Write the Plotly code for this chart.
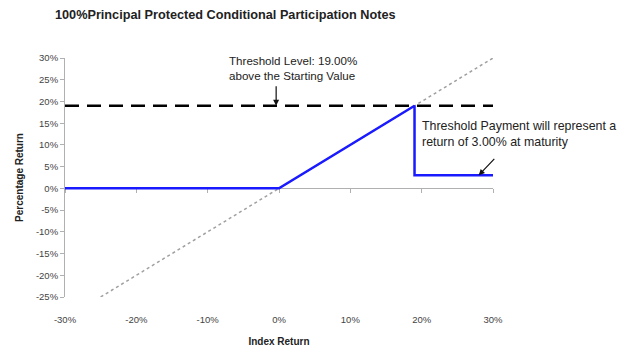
import plotly.graph_objects as go

# Data
payoff_x = [-30, 0, 19, 19, 30]
payoff_y = [0, 0, 19, 3, 3]
threshold_x = [-30, 30]
threshold_y = [19, 19]
index_x = [-25, 30]
index_y = [-25, 30]
x_ticks = [-30, -20, -10, 0, 10, 20, 30]
x_tick_labels = ["-30%", "-20%", "-10%", "0%", "10%", "20%", "30%"]
y_ticks = [-25, -20, -15, -10, -5, 0, 5, 10, 15, 20, 25, 30]
y_tick_labels = ["-25%", "-20%", "-15%", "-10%", "-5%", "0%", "5%", "10%", "15%", "20%", "25%", "30%"]

FONT = "Liberation Sans, Arial, sans-serif"
W, H = 621, 348
ml, mr, mt, mb = 65, 128, 58, 51
yr = [-25, 30]

fig = go.Figure()
fig.add_trace(go.Scatter(x=index_x, y=index_y, mode="lines",
                         line=dict(color="#a0a0a0", width=1.5, dash="dot"), hoverinfo="skip"))
fig.add_trace(go.Scatter(x=threshold_x, y=threshold_y, mode="lines",
                         line=dict(color="black", width=2.5, dash="14px,8px"), hoverinfo="skip"))
fig.add_trace(go.Scatter(x=payoff_x, y=payoff_y, mode="lines",
                         line=dict(color="#1a1aff", width=2.5), hoverinfo="skip"))

zero_pos = (0 - yr[0]) / (yr[1] - yr[0])

fig.update_layout(
    width=W, height=H,
    margin=dict(l=ml, r=mr, t=mt, b=mb, autoexpand=False),
    paper_bgcolor="white", plot_bgcolor="white",
    showlegend=False,
    font=dict(family=FONT, color="#333333"),
    title=dict(text="<b>100%Principal Protected Conditional Participation Notes</b>",
               x=55 / W, xanchor="left", y=1 - 15 / H, yanchor="middle",
               font=dict(size=12.7, color="#222222", family=FONT)),
    xaxis=dict(range=[-30, 30], tickvals=x_ticks, ticktext=x_tick_labels,
               showline=False, showgrid=False, zeroline=False, ticks="",
               automargin=False,
               tickfont=dict(size=9.5, color="#444444"), ticklabelstandoff=15,
               title=dict(text="<b>Index Return</b>", font=dict(size=10, color="#222222"), standoff=14)),
    xaxis2=dict(range=[-30, 30], tickvals=x_ticks, showticklabels=False,
                overlaying="x", anchor="free", position=zero_pos,
                showline=True, linecolor="#b0b0b0", linewidth=1,
                ticks="outside", ticklen=4, tickcolor="#b0b0b0",
                showgrid=False, zeroline=False, automargin=False,
                layer="below traces"),
    yaxis=dict(range=yr, tickvals=y_ticks, ticktext=y_tick_labels,
               showline=True, linecolor="#b0b0b0", linewidth=1,
               ticks="outside", ticklen=4, tickcolor="#b0b0b0",
               showgrid=False, zeroline=False, automargin=False,
               layer="below traces",
               tickfont=dict(size=9.5, color="#444444"),
               title=dict(text="<b>Percentage Return</b>", font=dict(size=10, color="#222222"), standoff=10)),
)
# dummy trace to activate xaxis2
fig.add_trace(go.Scatter(x=[None], y=[None], xaxis="x2", showlegend=False, hoverinfo="skip"))

fig.add_annotation(x=-0.4, y=19, xref="x", yref="y", ax=0, ay=-21,
                   text="", showarrow=True, arrowhead=2, arrowsize=1, arrowwidth=1.2, arrowcolor="#111111")
fig.add_annotation(x=-7.3, y=27.8, xref="x", yref="y", showarrow=False,
                   text="Threshold Level: 19.00%<br>above the Starting Value",
                   align="left", xanchor="left", yanchor="middle",
                   font=dict(size=11.6, color="#222222", family=FONT))
fig.add_annotation(x=28, y=3, xref="x", yref="y", ax=17, ay=-18,
                   text="", showarrow=True, arrowhead=2, arrowsize=1, arrowwidth=1.2, arrowcolor="#111111")
fig.add_annotation(x=19.8, y=12.4, xref="x", yref="y", showarrow=False,
                   text="Threshold Payment will represent a<br>return of 3.00% at maturity",
                   align="left", xanchor="left", yanchor="middle",
                   font=dict(size=12.4, color="#222222", family=FONT))

fig.write_html("out.html")
